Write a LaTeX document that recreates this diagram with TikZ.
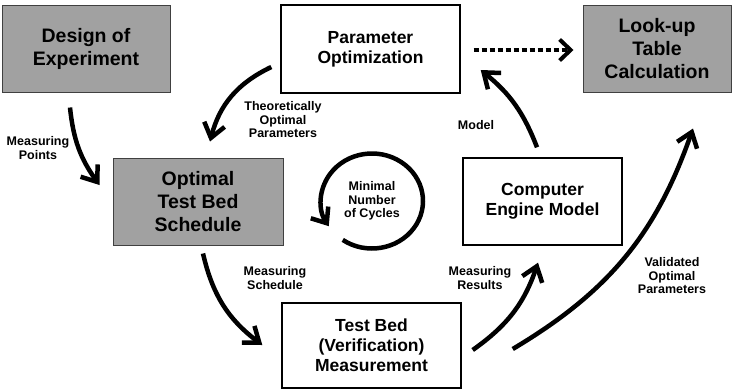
\documentclass[tikz,border=0pt]{standalone}
\usepackage{fontspec}
\setmainfont{Liberation Sans}
\usetikzlibrary{arrows.meta,calc}
\begin{document}
\begin{tikzpicture}[x=1pt,y=1pt]
\tikzset{
  whitebox/.style={draw=black, line width=1.4pt, fill=white, align=center,
    font=\fontsize{17.5}{20}\selectfont\bfseries, inner sep=0pt},
  graybox/.style={draw=black!75, line width=1pt, fill=black!37, align=center,
    font=\fontsize{19.5}{23}\selectfont\bfseries, inner sep=0pt},
  lbl/.style={align=center, font=\fontsize{12.5}{13.5}\selectfont\bfseries, inner sep=0pt},
  flow/.style={line width=4.5pt, -{Straight Barb[length=14pt,width=21pt]}},
  dotflow/.style={line width=4pt, dash pattern=on 5pt off 3pt,
    -{Straight Barb[length=11pt,width=21pt]}}
}
\useasboundingbox (0,0) rectangle (734,-391);

% process blocks
\node[graybox, minimum width=168pt, minimum height=87pt] (doe) at (86,-48.5) {Design of\\Experiment};
\node[whitebox, minimum width=179pt, minimum height=88pt] (po) at (370.5,-49) {Parameter\\Optimization};
\node[graybox, minimum width=148pt, minimum height=87pt] (lut) at (657,-48.5) {Look-up\\Table\\Calculation};
\node[graybox, minimum width=170pt, minimum height=87pt] (otbs) at (198,-201.5) {Optimal\\Test Bed\\Schedule};
\node[whitebox, minimum width=159pt, minimum height=87pt] (cem) at (542.5,-201.5) {Computer\\Engine Model};
\node[whitebox, minimum width=179pt, minimum height=85pt] (tbm) at (371.5,-345.5) {Test Bed\\(Verification)\\Measurement};

% central cycle
\node[lbl] (cyc) at (372,-201) {Minimal\\Number\\of Cycles};
\draw[flow, -{Straight Barb[length=13pt,width=21pt]}]
  ([shift={(235:51 and 47.5)}]cyc.center) arc[start angle=235, end angle=572, x radius=51, y radius=47.5];

% connectors
\draw[flow] ($(doe.south)+(-16,-15)$) to[bend right=15] ($(otbs.west)+(-13,16.5)$);
\draw[flow] ($(po.west)+(-9,-18)$) to[bend right=25] ($(otbs.north)+(12,16)$);
\draw[flow] ($(otbs.south)+(5,-8)$) to[bend right=20] ($(tbm.west)+(-19,0.5)$);
\draw[flow] ($(tbm.east)+(11,-4.5)$) to[bend right=18] ($(cem.south)+(-4.5,-17)$);
\draw[flow] ($(tbm.east)+(51,-3.5)$) to[bend right=20] ($(lut.south)+(36,-36)$);
\draw[flow] ($(cem.north)+(-5.5,10)$) to[bend right=15] ($(po.east)+(20,-21)$);
\draw[dotflow] ($(po.east)+(13,-1)$) -- ($(lut.west)+(-9,-1.5)$);

% connector labels
\node[lbl] (lmp) at (38,-148) {Measuring\\Points};
\node[lbl] (ltop) at (283,-120) {Theoretically\\Optimal\\Parameters};
\node[lbl] (lmod) at (476,-125) {Model};
\node[lbl] (lms) at (275,-278) {Measuring\\Schedule};
\node[lbl] (lmr) at (480,-278) {Measuring\\Results};
\node[lbl] (lvop) at (672,-276) {Validated\\Optimal\\Parameters};
\end{tikzpicture}
\end{document}
